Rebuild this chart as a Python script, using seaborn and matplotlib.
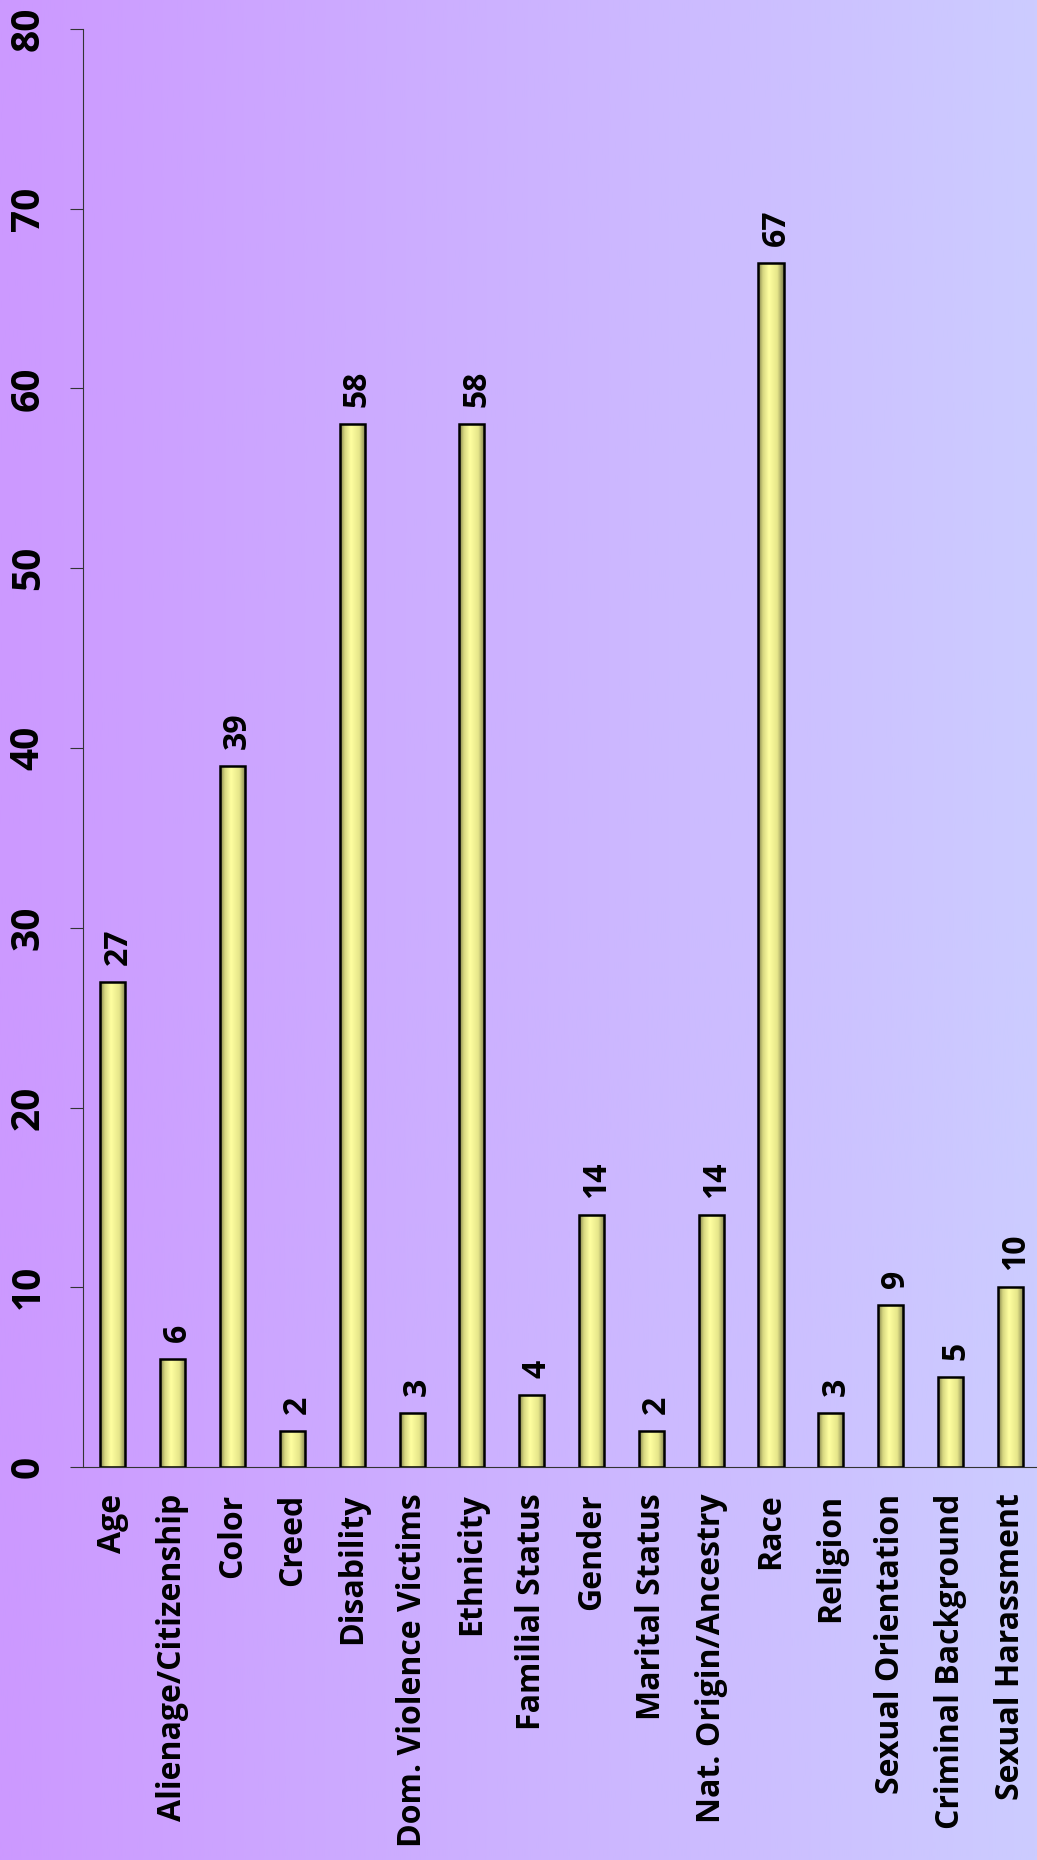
"""Complaints by protected basis - vertical bar chart with rotated labels."""

import matplotlib

matplotlib.use("Agg")
import matplotlib.pyplot as plt
import numpy as np
import pandas as pd
import seaborn as sns
from matplotlib.colors import LinearSegmentedColormap

categories = [
    "Age",
    "Alienage/Citizenship",
    "Color",
    "Creed",
    "Disability",
    "Dom. Violence Victims",
    "Ethnicity",
    "Familial Status",
    "Gender",
    "Marital Status",
    "Nat. Origin/Ancestry",
    "Race",
    "Religion",
    "Sexual Orientation",
    "Criminal Background",
    "Sexual Harassment",
]
counts = [27, 6, 39, 2, 58, 3, 58, 4, 14, 2, 14, 67, 3, 9, 5, 10]
y_ticks = [0, 10, 20, 30, 40, 50, 60, 70, 80]

sns.set_style("ticks")
plt.rcParams["font.family"] = ["Open Sans", "DejaVu Sans"]
plt.rcParams["text.color"] = "black"
plt.rcParams["xtick.labelcolor"] = "black"
plt.rcParams["ytick.labelcolor"] = "black"

W, H = 1037, 1860
fig = plt.figure(figsize=(W / 100, H / 100), dpi=100)

# background: horizontal purple -> lavender gradient
bg = fig.add_axes([0, 0, 1, 1], zorder=-10)
bg_cmap = LinearSegmentedColormap.from_list("bg", ["#cc99ff", "#ccccff"])
bg.imshow(np.linspace(0, 1, 512).reshape(1, -1), aspect="auto", cmap=bg_cmap,
          extent=[0, 1, 0, 1])
bg.set_axis_off()

ax = fig.add_axes([83 / W, 393 / H, (W - 83) / W, 1438 / H])
ax.patch.set_alpha(0)

df = pd.DataFrame({"basis": categories, "count": counts})
sns.barplot(df, x="basis", y="count", color="#ffff99", saturation=1, width=0.42,
            edgecolor="black", linewidth=1.8, ax=ax)

# cylinder-like shading on each bar
bar_cmap = LinearSegmentedColormap.from_list(
    "bar", [(0, "#7f7f48"), (0.18, "#d6d680"), (0.42, "#ffffa0"),
            (0.75, "#e6e68a"), (1, "#808050")])
shade = np.linspace(0, 1, 64).reshape(1, -1)
for patch in ax.patches:
    x0, w, h = patch.get_x(), patch.get_width(), patch.get_height()
    im = ax.imshow(shade, cmap=bar_cmap, aspect="auto", extent=[x0, x0 + w, 0, h],
                   zorder=patch.get_zorder() - 0.1)
    im.set_clip_path(patch)
    patch.set_facecolor("none")

for patch, v in zip(ax.patches, counts):
    ax.annotate(str(v), (patch.get_x() + patch.get_width() / 2, v),
                xytext=(5, 17), textcoords="offset pixels", rotation=90,
                ha="center", va="bottom", fontsize=23, fontweight="bold",
                color="black")

ax.set_xlim(-0.5, 15.445)
ax.set_ylim(0, 80)
ax.set_yticks(y_ticks)
ax.set_xlabel("")
ax.set_ylabel("")
ax.tick_params(axis="y", labelrotation=90, labelsize=28, length=9.4, width=0.8,
               pad=16, color="#333333", labelcolor="black")
ax.tick_params(axis="x", labelrotation=90, labelsize=23, length=0, pad=19,
               labelcolor="black")
for lab in ax.get_xticklabels() + ax.get_yticklabels():
    lab.set_fontweight("bold")
for lab in ax.get_yticklabels():
    lab.set_va("center")
sns.despine(ax=ax)
for s in ("left", "bottom"):
    ax.spines[s].set_color("#333333")
    ax.spines[s].set_linewidth(0.8)

fig.savefig("out.png", dpi=100)
